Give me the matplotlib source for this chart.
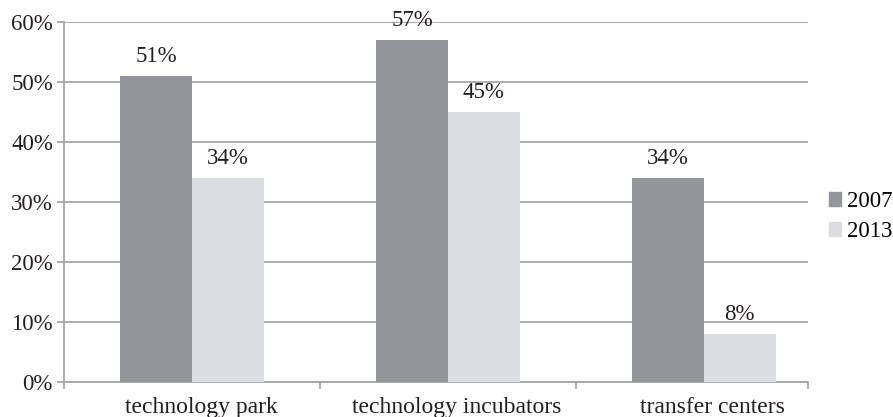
import numpy as np
import matplotlib.pyplot as plt
from matplotlib.patches import Patch

categories = ["technology park", "technology incubators", "transfer centers"]
years = ["2007", "2013"]
vals_2007 = [51, 57, 34]
vals_2013 = [34, 45, 8]

dark = "#939598"
light = "#dcdddf"
gridc = "#a6a6a6"
txtc = "#231f20"

plt.rcParams['font.family'] = ['Liberation Serif', 'DejaVu Serif']

fig = plt.figure(figsize=(8.93, 4.17), dpi=100)
ax = fig.add_axes([0.0717, 0.084, 0.833, 0.863])

x = np.arange(len(categories))
w = 0.28
b1 = ax.bar(x - w / 2, vals_2007, w, color=dark, zorder=3)
b2 = ax.bar(x + w / 2, vals_2013, w, color=light, zorder=3)

for bars, vals in ((b1, vals_2007), (b2, vals_2013)):
    for r, v in zip(bars, vals):
        ax.text(r.get_x() + r.get_width() / 2, v + 1.5, f"{v}%",
                ha="center", va="bottom", fontsize=16.5, color=txtc)

xmax = 2.406
ax.set_xlim(-0.5, xmax)
ax.set_ylim(0, 60)
ax.set_yticks(range(0, 61, 10))
ax.set_yticklabels([f"{t}%" for t in range(0, 61, 10)], fontsize=16.5, color=txtc)
ax.yaxis.grid(True, color=gridc, linewidth=1.3, zorder=0)

ax.set_xticks([-0.5, 0.5, 1.5, xmax])
ax.set_xticklabels([])
ax.set_xticks(x + 0.035, minor=True)
ax.set_xticklabels(categories, minor=True, fontsize=17, color=txtc)
ax.tick_params(axis="x", which="minor", length=0, pad=11)
ax.tick_params(axis="x", which="major", length=5, color=gridc, width=1.3)
ax.tick_params(axis="y", length=5, color=gridc, width=1.3, pad=3)

for s in ["top", "right"]:
    ax.spines[s].set_visible(False)
for s in ["left", "bottom"]:
    ax.spines[s].set_color(gridc)
    ax.spines[s].set_linewidth(1.3)

handles = [Patch(color=dark), Patch(color=light)]
ax.legend(handles, years, loc="center left", bbox_to_anchor=(1.0, 0.46),
          frameon=False, fontsize=16.5, handlelength=0.55, handleheight=0.55,
          handletextpad=0.25, labelspacing=0.4, borderaxespad=0.5)

fig.savefig("out.png", dpi=100)
